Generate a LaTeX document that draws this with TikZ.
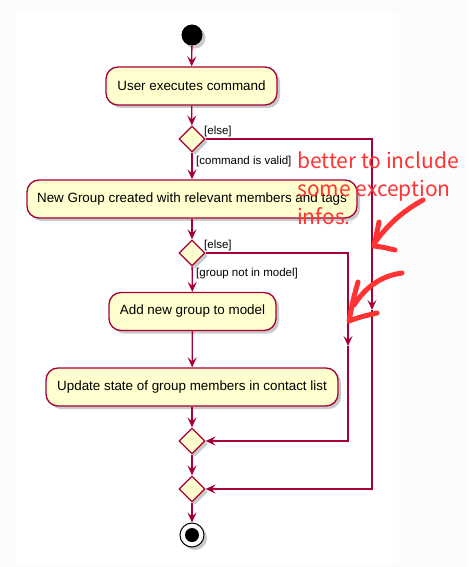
\documentclass[tikz,border=0pt]{standalone}
\usepackage{fontspec}
\setmainfont{Liberation Sans}
\newfontfamily\notefont{Noto Sans CJK SC}
\usetikzlibrary{arrows.meta,shapes.geometric,shadows}
\definecolor{umlborder}{RGB}{168,0,54}
\definecolor{umlfill}{RGB}{254,254,206}
\definecolor{outerbg}{RGB}{252,252,252}
\definecolor{notered}{RGB}{255,51,51}
\tikzset{
  umlshadow/.style={drop shadow={shadow xshift=3pt,shadow yshift=-3pt,opacity=0.35,fill=black!60}},
  actbox/.style={draw=umlborder,fill=umlfill,line width=1.3pt,rounded corners=12pt,
    minimum height=38pt,inner sep=0pt,font=\fontsize{13.4}{15}\selectfont,umlshadow},
  decision/.style={diamond,draw=umlborder,fill=umlfill,line width=1.3pt,
    minimum width=26pt,minimum height=26pt,inner sep=0pt,umlshadow},
  flow/.style={draw=umlborder,line width=1.3pt,-{Stealth[length=10pt,width=9pt,inset=4pt]}},
  guard/.style={font=\fontsize{11.5}{13}\selectfont,inner sep=0pt,anchor=west},
  notetext/.style={anchor=base west,inner sep=0pt,text=notered,font=\notefont\fontsize{21}{28}\selectfont},
  scribble/.style={draw=notered,line width=5pt,line cap=round,line join=round},
}
\begin{document}
\begin{tikzpicture}[x=1pt,y=-1pt]
\useasboundingbox (0,0) rectangle (469,567);
\fill[outerbg] (0,0) rectangle (469,567);
\fill[white] (15,13) rectangle (399,563);

% start / end
\node[circle,fill=black,minimum size=21pt,inner sep=0pt,umlshadow] (start) at (192,35) {};
\node[circle,draw=black,fill=white,line width=1pt,minimum size=24pt,inner sep=0pt,umlshadow] (stop) at (192,535) {};
\fill[black] (stop.center) circle (7pt);

% activities
\node[actbox,minimum width=171pt] (exec) at (191.5,86) {User executes command};
\node[decision] (d1) at (192,139) {};
\node[actbox,minimum width=330pt] (create) at (192,199) {New Group created with relevant members and tags};
\node[decision] (d2) at (192,253) {};
\node[actbox,minimum width=167pt] (add) at (192.5,311.5) {Add new group to model};
\node[actbox,minimum width=292pt] (update) at (192,387) {Update state of group members in contact list};
\node[decision] (m1) at (192,441) {};
\node[decision] (m2) at (192,489) {};

% guards
\node[guard] (g1) at (204,132) {[else]};
\node[guard] (g2) at (196,162) {[command is valid]};
\node[guard] (g3) at (204,246) {[else]};
\node[guard] (g4) at (196,274) {[group not in model]};

% corner coordinates
\coordinate (r1a) at (372,139);
\coordinate (r1m) at (372,310);
\coordinate (r1b) at (372,489);
\coordinate (r2a) at (348,253);
\coordinate (r2m) at (348,346);
\coordinate (r2b) at (348,441);

% main flow
\draw[flow] (start) -- (exec);
\draw[flow] (exec) -- (d1);
\draw[flow] (d1) -- (create);
\draw[flow] (create) -- (d2);
\draw[flow] (d2) -- (add);
\draw[flow] (add) -- (update);
\draw[flow] (update) -- (m1);
\draw[flow] (m1) -- (m2);
\draw[flow] (m2) -- (stop);

% else branches
\draw[flow] (d1.east) -- (r1a) -- (r1m);
\draw[flow] (r1m) -- (r1b) -- (m2.east);
\draw[flow] (d2.east) -- (r2a) -- (r2m);
\draw[flow] (r2m) -- (r2b) -- (m1.east);

% annotation
\node[notetext] (note1) at (297,168) {better to include};
\node[notetext] (note2) at (297,196) {some exception};
\node[notetext] (note3) at (297,224) {infos.};

% hand-drawn arrows
\draw[scribble] (423,200) .. controls (405,210) and (390,222) .. (376,241);
\draw[scribble] (379,222) .. controls (377,232) .. (374,246) .. controls (382,247) .. (395,250);
\draw[scribble] (402,273) .. controls (380,276) and (365,288) .. (354,305);
\draw[scribble] (358,282) .. controls (353,300) .. (349,321) .. controls (360,317) .. (377,313);
\end{tikzpicture}
\end{document}
